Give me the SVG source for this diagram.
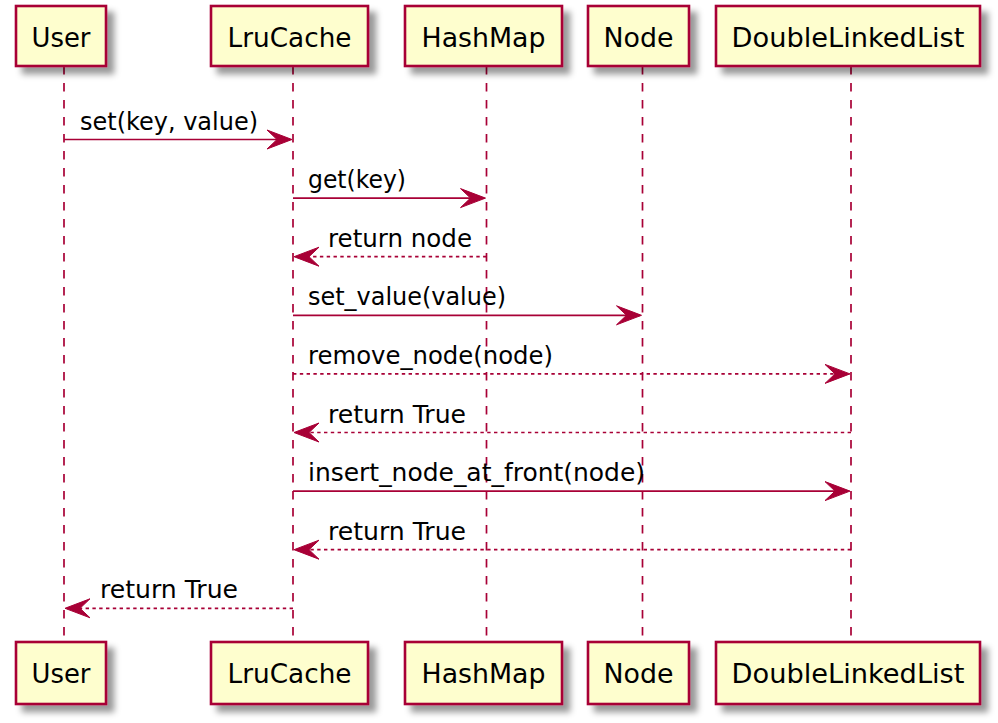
<svg xmlns="http://www.w3.org/2000/svg" width="998" height="723" viewBox="0 0 998 723">
<defs>
<filter id="sh" x="-20%" y="-20%" width="150%" height="160%">
<feGaussianBlur in="SourceAlpha" stdDeviation="3.4" result="b"/>
<feColorMatrix in="b" type="matrix" values="0 0 0 0 0  0 0 0 0 0  0 0 0 0 0  0 0 0 0.4 0" result="c"/>
<feOffset in="c" dx="6.8" dy="6.8" result="o"/>
<feMerge><feMergeNode in="o"/><feMergeNode in="SourceGraphic"/></feMerge>
</filter>
</defs>
<style>
.box{fill:#FEFECE;stroke:#A80036;stroke-width:2.6;filter:url(#sh)}
.pt{font-family:"DejaVu Sans",Verdana,sans-serif;font-size:26px;fill:#000;text-anchor:middle}
.life{stroke:#A80036;stroke-width:1.7;stroke-dasharray:8.5,8.5;fill:none}
.msg{stroke:#A80036;stroke-width:1.7;fill:none}
.ret{stroke:#A80036;stroke-width:1.7;fill:none;stroke-dasharray:3.4,3.4}
.ah{fill:#A80036;stroke:#A80036;stroke-width:1}
.mt{font-family:"DejaVu Sans",Verdana,sans-serif;font-size:24px;fill:#000}
</style>
<rect width="998" height="723" fill="#FFFFFF"/>
<g id="lifelines">
<line class="life" x1="64" y1="66" x2="64" y2="642"/>
<line class="life" x1="293" y1="66" x2="293" y2="642"/>
<line class="life" x1="486.5" y1="66" x2="486.5" y2="642"/>
<line class="life" x1="642.5" y1="66" x2="642.5" y2="642"/>
<line class="life" x1="851" y1="66" x2="851" y2="642"/>
</g>
<g id="User">
<rect class="box" x="16" y="6" width="90" height="60"/>
<text class="pt" x="61" y="46.7" textLength="59" lengthAdjust="spacingAndGlyphs">User</text>
<rect class="box" x="16" y="642" width="90" height="62"/>
<text class="pt" x="61" y="683" textLength="59" lengthAdjust="spacingAndGlyphs">User</text>
</g>
<g id="LruCache">
<rect class="box" x="211" y="6" width="157" height="60"/>
<text class="pt" x="289.5" y="46.7" textLength="124" lengthAdjust="spacingAndGlyphs">LruCache</text>
<rect class="box" x="211" y="642" width="157" height="62"/>
<text class="pt" x="289.5" y="683" textLength="124" lengthAdjust="spacingAndGlyphs">LruCache</text>
</g>
<g id="HashMap">
<rect class="box" x="405" y="6" width="157" height="60"/>
<text class="pt" x="483.5" y="46.7" textLength="124" lengthAdjust="spacingAndGlyphs">HashMap</text>
<rect class="box" x="405" y="642" width="157" height="62"/>
<text class="pt" x="483.5" y="683" textLength="124" lengthAdjust="spacingAndGlyphs">HashMap</text>
</g>
<g id="Node">
<rect class="box" x="588" y="6" width="101" height="60"/>
<text class="pt" x="638.5" y="46.7" textLength="70" lengthAdjust="spacingAndGlyphs">Node</text>
<rect class="box" x="588" y="642" width="101" height="62"/>
<text class="pt" x="638.5" y="683" textLength="70" lengthAdjust="spacingAndGlyphs">Node</text>
</g>
<g id="DoubleLinkedList">
<rect class="box" x="716" y="6" width="264" height="60"/>
<text class="pt" x="848" y="46.7" textLength="233" lengthAdjust="spacingAndGlyphs">DoubleLinkedList</text>
<rect class="box" x="716" y="642" width="264" height="62"/>
<text class="pt" x="848" y="683" textLength="233" lengthAdjust="spacingAndGlyphs">DoubleLinkedList</text>
</g>
<g id="connectors">
<line class="msg" x1="64" y1="139.5" x2="290" y2="139.5"/>
<polygon class="ah" points="292,139.5 267,130 277,139.5 267,149"/>
<text class="mt" x="80" y="129.5" textLength="178" lengthAdjust="spacingAndGlyphs">set(key, value)</text>

<line class="msg" x1="293" y1="198.1" x2="484" y2="198.1"/>
<polygon class="ah" points="485.5,198.1 460.5,188.6 470.5,198.1 460.5,207.6"/>
<text class="mt" x="308" y="188.1" textLength="98" lengthAdjust="spacingAndGlyphs">get(key)</text>

<line class="ret" x1="486.5" y1="256.7" x2="296" y2="256.7"/>
<polygon class="ah" points="294,256.7 319,247.2 309,256.7 319,266.2"/>
<text class="mt" x="328" y="246.7" textLength="144" lengthAdjust="spacingAndGlyphs">return node</text>

<line class="msg" x1="293" y1="315.3" x2="640" y2="315.3"/>
<polygon class="ah" points="641.5,315.3 616.5,305.8 626.5,315.3 616.5,324.8"/>
<text class="mt" x="308" y="305.3" textLength="198" lengthAdjust="spacingAndGlyphs">set_value(value)</text>

<line class="ret" x1="293" y1="373.9" x2="848" y2="373.9"/>
<polygon class="ah" points="850,373.9 825,364.4 835,373.9 825,383.4"/>
<text class="mt" x="308" y="363.9" textLength="245" lengthAdjust="spacingAndGlyphs">remove_node(node)</text>

<line class="ret" x1="851" y1="432.5" x2="296" y2="432.5"/>
<polygon class="ah" points="294,432.5 319,423 309,432.5 319,442"/>
<text class="mt" x="328" y="422.5" textLength="138" lengthAdjust="spacingAndGlyphs">return True</text>

<line class="msg" x1="293" y1="491.1" x2="848" y2="491.1"/>
<polygon class="ah" points="850,491.1 825,481.6 835,491.1 825,500.6"/>
<text class="mt" x="308" y="481.1" textLength="337" lengthAdjust="spacingAndGlyphs">insert_node_at_front(node)</text>

<line class="ret" x1="851" y1="549.7" x2="296" y2="549.7"/>
<polygon class="ah" points="294,549.7 319,540.2 309,549.7 319,559.2"/>
<text class="mt" x="328" y="539.7" textLength="138" lengthAdjust="spacingAndGlyphs">return True</text>

<line class="ret" x1="293" y1="608.3" x2="67" y2="608.3"/>
<polygon class="ah" points="65,608.3 90,598.8 80,608.3 90,617.8"/>
<text class="mt" x="100" y="598.3" textLength="138" lengthAdjust="spacingAndGlyphs">return True</text>
</g>
</svg>
